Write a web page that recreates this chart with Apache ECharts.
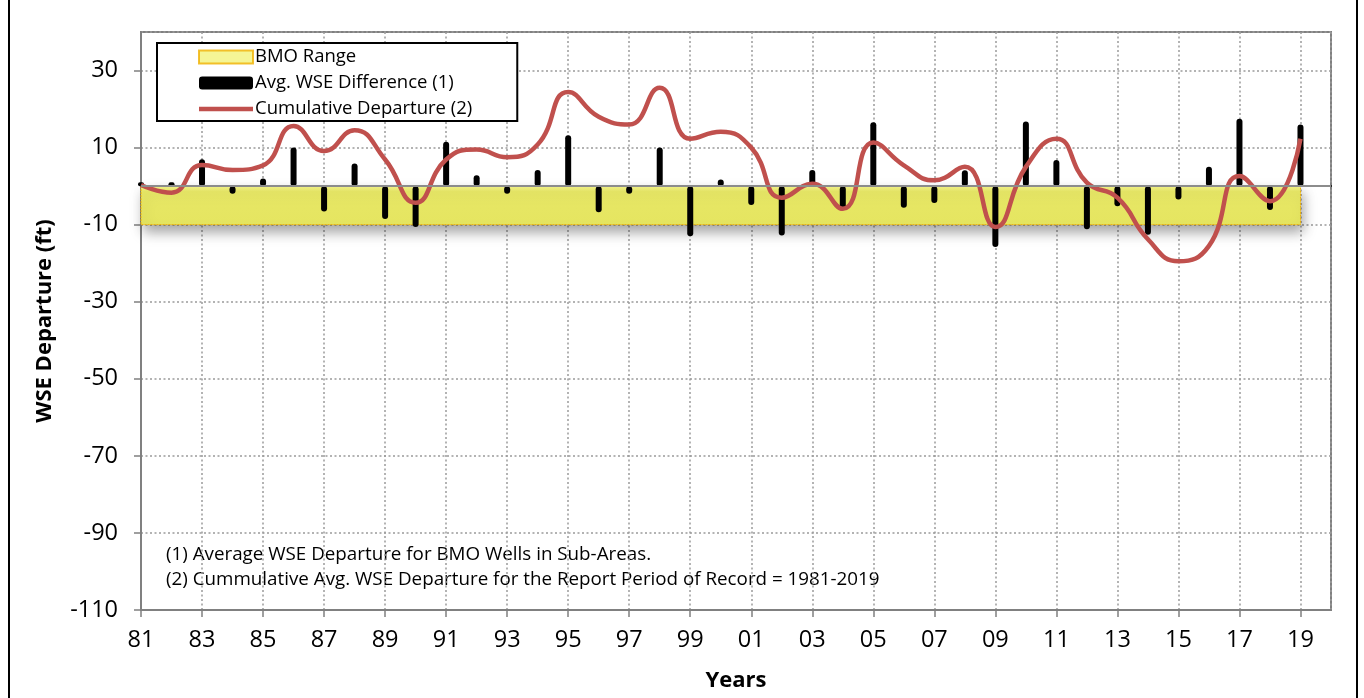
<!DOCTYPE html>
<html>
<head>
<meta charset="utf-8">
<title>WSE Departure</title>
<script src="https://cdn.jsdelivr.net/npm/echarts@6/dist/echarts.min.js"></script>
<style>
  html, body { margin: 0; padding: 0; background: #fff; }
  #chart { width: 1364px; height: 698px; }
</style>
</head>
<body>
<div id="chart"></div>
<script>
// years of record
const years = [1981, 1982, 1983, 1984, 1985, 1986, 1987, 1988, 1989, 1990,
  1991, 1992, 1993, 1994, 1995, 1996, 1997, 1998, 1999, 2000,
  2001, 2002, 2003, 2004, 2005, 2006, 2007, 2008, 2009, 2010,
  2011, 2012, 2013, 2014, 2015, 2016, 2017, 2018, 2019];

// (1) average WSE difference per year (ft)
const avgWseDiff = [1, 1, 7, -2, 2, 10, -6.6, 5.9, -8.5, -10.6,
  11.5, 2.8, -2, 4.2, 13.2, -6.8, -2, 10, -13, 1.7,
  -4.9, -12.8, 4.2, -6, 16.6, -5.6, -4.4, 4.1, -15.8, 16.8,
  6.8, -11.2, -5.2, -12.6, -3.5, 5, 17.5, -6.2, 16];

// (2) cumulative departure (ft)
const cumDeparture = [0.3, -1.7, 5.5, 4.2, 5.4, 15.6, 9.1, 14.5, 6.9, -4.3,
  6.9, 9.5, 7.5, 10.8, 24.4, 18, 16, 25.5, 12.3, 14.1,
  10, -3, 0.6, -5.9, 11.3, 5.4, 1.5, 5, -10.6, 5,
  12.3, 0.9, -3, -13.8, -19.5, -15.5, 2.6, -3.9, 12.3];

// BMO range (ft)
const bmoRange = [0, -10];

const yTicks = { min: -110, max: 40, interval: 20 };
const xTicks = { min: 1981, max: 2020, interval: 2 };

const notes = [
  '(1) Average WSE Departure for BMO Wells in Sub-Areas.',
  '(2) Cummulative Avg. WSE Departure for the Report Period of Record = 1981-2019'
];

const FONT = '"Open Sans", "Noto Sans", sans-serif';
const RED = '#c0504d';

const myChart = echarts.init(document.getElementById('chart'));

const gridLine = {
  show: true,
  lineStyle: { color: '#9a9a9a', width: 1.5, type: [2, 2.5] }
};

// plain line icon for the legend (tiny end points keep the box 54x13)
const lineIcon = 'path://M0,0L0.01,0L0,0.01Z M0,4.3L54,4.3L54,8.7L0,8.7Z M54,13L53.99,13L54,12.99Z';

const option = {
  animation: false,
  backgroundColor: '#fff',
  textStyle: { fontFamily: FONT },
  grid: {
    left: 141, right: 33, top: 32, bottom: 88,
    show: true, borderColor: '#808080', borderWidth: 2, backgroundColor: 'transparent'
  },
  legend: {
    left: 157,
    top: 43,
    orient: 'vertical',
    padding: [4, 45, 2, 41],
    itemWidth: 54,
    itemHeight: 13,
    itemGap: 6,
    borderColor: '#000',
    borderWidth: 2,
    backgroundColor: '#fff',
    textStyle: { fontFamily: FONT, fontSize: 18.5, lineHeight: 20, color: '#000', padding: [0, 0, 0, -3] },
    data: [
      { name: 'BMO Range', icon: 'rect' },
      { name: 'Avg. WSE Difference (1)', icon: 'roundRect' },
      { name: 'Cumulative Departure (2)', icon: lineIcon }
    ]
  },
  xAxis: [
    {
      type: 'value',
      min: xTicks.min,
      max: xTicks.max,
      interval: xTicks.interval,
      name: 'Years',
      nameLocation: 'middle',
      nameGap: 60,
      nameTextStyle: { fontFamily: FONT, fontSize: 22, fontWeight: 'bold', color: '#000' },
      axisLine: { onZero: false, lineStyle: { color: '#808080', width: 2 } },
      axisTick: { show: true, length: 7, lineStyle: { color: '#808080', width: 1.5 } },
      axisLabel: {
        margin: 18,
        fontSize: 23.5,
        color: '#000',
        fontFamily: FONT,
        showMaxLabel: false,
        formatter: (v) => (v % 2 === 1 ? String(v).slice(2) : '')
      },
      splitLine: gridLine
    },
    {
      type: 'value',
      position: 'top',
      min: xTicks.min,
      max: xTicks.max,
      axisLine: { show: true, lineStyle: { color: '#000', width: 2 } },
      axisTick: { show: false },
      axisLabel: { show: false },
      splitLine: { show: false }
    }
  ],
  yAxis: {
    type: 'value',
    min: yTicks.min,
    max: yTicks.max,
    interval: yTicks.interval,
    name: 'WSE Departure (ft)',
    nameLocation: 'middle',
    nameGap: 85,
    nameTextStyle: { fontFamily: FONT, fontSize: 22, fontWeight: 'bold', color: '#000' },
    axisLine: { show: true, lineStyle: { color: '#808080', width: 2 } },
    axisTick: { show: true, length: 7, lineStyle: { color: '#808080', width: 1.5 } },
    axisLabel: { margin: 23, fontSize: 23.5, color: '#000', fontFamily: FONT, showMaxLabel: false },
    splitLine: gridLine
  },
  series: [
    {
      name: 'BMO Range',
      type: 'scatter',
      data: [],
      z: 1,
      itemStyle: { color: '#f2f27a', borderColor: '#f0b000', borderWidth: 1 },
      markArea: {
        silent: true,
        itemStyle: {
          color: {
            type: 'linear', x: 0, y: 0, x2: 0, y2: 1,
            colorStops: [
              { offset: 0, color: '#f4f48e' },
              { offset: 0.15, color: '#e7e766' },
              { offset: 1, color: '#e5e560' }
            ]
          },
          borderColor: '#f0b000',
          borderWidth: 1,
          borderType: [2, 1],
          shadowColor: 'rgba(0,0,0,0.35)',
          shadowBlur: 12,
          shadowOffsetX: 3,
          shadowOffsetY: 7
        },
        data: [[
          { coord: [years[0], bmoRange[0]] },
          { coord: [years[years.length - 1], bmoRange[1]] }
        ]]
      },
      markLine: {
        silent: true,
        symbol: 'none',
        label: { show: false },
        lineStyle: { color: '#8c8c8c', width: 2, type: 'solid' },
        data: [{ yAxis: 0 }]
      }
    },
    {
      name: 'Avg. WSE Difference (1)',
      type: 'bar',
      z: 3,
      barWidth: 6,
      itemStyle: { color: '#000', borderRadius: 3 },
      data: years.map((y, i) => [y, avgWseDiff[i]])
    },
    {
      name: 'Cumulative Departure (2)',
      type: 'line',
      z: 4,
      smooth: 0.5,
      symbol: 'none',
      lineStyle: { color: RED, width: 4.5 },
      itemStyle: { color: RED },
      data: years.map((y, i) => [y, cumDeparture[i]])
    }
  ],
  graphic: [
    {
      type: 'rect',
      silent: true,
      shape: { x: 9, y: -5, width: 1348, height: 710 },
      style: { fill: 'none', stroke: '#000', lineWidth: 2 }
    },
    {
      type: 'text',
      x: 166,
      y: 555,
      style: { text: notes[0], fontFamily: FONT, fontSize: 18.8, fill: '#000', verticalAlign: 'middle' }
    },
    {
      type: 'text',
      x: 166,
      y: 580,
      style: { text: notes[1], fontFamily: FONT, fontSize: 18.8, fill: '#000', verticalAlign: 'middle' }
    }
  ]
};

myChart.setOption(option);
</script>
</body>
</html>
